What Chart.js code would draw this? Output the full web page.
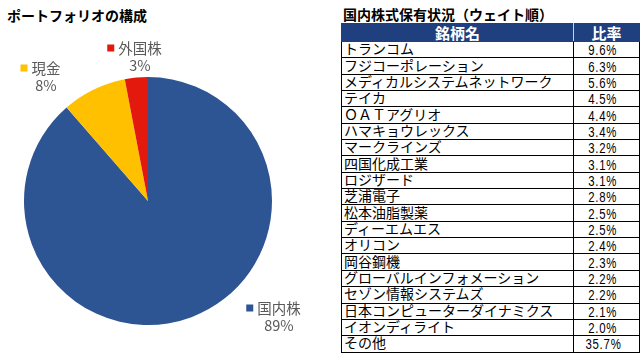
<!DOCTYPE html>
<html><head><meta charset="utf-8">
<script src="https://cdn.jsdelivr.net/npm/chart.js@4"></script>
<style>
html,body{margin:0;padding:0;background:#fff;width:640px;height:360px;overflow:hidden;font-family:"Noto Sans CJK JP",sans-serif;}
.ttl{position:absolute;font-weight:bold;font-size:14px;line-height:16px;color:#000;white-space:nowrap;}
#pieWrap{position:absolute;left:0;top:0;width:330px;height:360px;}
#tbl{position:absolute;left:341px;top:23px;}
table{border-collapse:collapse;table-layout:fixed;width:298px;}
td,th{padding:0;border:1px solid #000;font-size:14px;white-space:nowrap;overflow:hidden;}
th{background:#1f3f7e;color:#fff;font-weight:bold;font-size:15px;height:17px;line-height:17px;text-align:center;border-color:#1f3f7e;}
th.c1{border-right:1px solid #c8cfe0;}
td{height:15.35px;line-height:15px;color:#000;vertical-align:middle;}
td.n{padding-left:2px;}
td.n span{position:relative;top:-1px;}
td.v{text-align:right;padding-right:22px;font-size:15px;font-family:"Liberation Sans","DejaVu Sans",sans-serif;}
td.v span{display:inline-block;transform:scaleX(0.76);transform-origin:right center;letter-spacing:1px;}
</style></head>
<body>
<div class="ttl" style="left:7px;top:7px;">ポートフォリオの構成</div>
<div class="ttl" style="left:343px;top:6px;">国内株式保有状況（ウェイト順）</div>
<div id="pieWrap"><canvas id="pie" width="330" height="360"></canvas></div>
<div id="tbl"></div>
<script>
// ---- Data ----
const assetLabels = ["国内株", "現金", "外国株"];
const assetValues = [88.6, 8.4, 3.0];
const assetColors = ["#2d5493", "#ffc000", "#e3190d"];

const holdingNames = ["トランコム","フジコーポレーション","メディカルシステムネットワーク","テイカ","ＯＡＴアグリオ","ハマキョウレックス","マークラインズ","四国化成工業","ロジザード","芝浦電子","松本油脂製薬","ディーエムエス","オリコン","岡谷鋼機","グローバルインフォメーション","セゾン情報システムズ","日本コンピューターダイナミクス","イオンディライト","その他"];
const holdingWeights = [9.6, 6.3, 5.6, 4.5, 4.4, 3.4, 3.2, 3.1, 3.1, 2.8, 2.5, 2.5, 2.4, 2.3, 2.2, 2.2, 2.1, 2.0, 35.7];
const tableHeaders = ["銘柄名", "比率"];

// ---- Table ----
(function(){
  let h = '<table><colgroup><col style="width:232px"><col style="width:66px"></colgroup>';
  h += '<tr><th class="c1">'+tableHeaders[0]+'</th><th>'+tableHeaders[1]+'</th></tr>';
  holdingNames.forEach((n,i)=>{
    h += '<tr><td class="n"><span>'+n+'</span></td><td class="v"><span>'+holdingWeights[i].toFixed(1)+'%</span></td></tr>';
  });
  h += '</table>';
  document.getElementById('tbl').innerHTML = h;
})();

// ---- Pie outside labels plugin ----
const outLabels = {
  id:'outLabels',
  afterDatasetsDraw(chart, args, opts){
    const ctx = chart.ctx;
    const meta = chart.getDatasetMeta(0);
    const ds = chart.data.datasets[0];
    const total = ds.data.reduce((a,b)=>a+b,0);
    meta.data.forEach((arc,i)=>{
      const off = opts.offsets[i];
      const cx = arc.x + off[0], cy = arc.y + off[1];
      ctx.save();
      ctx.font = '14.5px "Noto Sans CJK JP", sans-serif';
      ctx.fillStyle = '#595959';
      ctx.textAlign = 'center';
      ctx.textBaseline = 'middle';
      const name = chart.data.labels[i];
      const w = ctx.measureText(name).width;
      ctx.fillText(name, cx, cy);
      ctx.fillStyle = ds.backgroundColor[i];
      ctx.fillRect(cx - w/2 - 11, cy - 3.5, 7, 7);
      ctx.fillStyle = '#595959';
      ctx.fillText(Math.round(ds.data[i]/total*100) + '%', cx, cy + 17);
      ctx.restore();
    });
  }
};

new Chart(document.getElementById('pie'), {
  type:'pie',
  data:{labels:assetLabels, datasets:[{data:assetValues, backgroundColor:assetColors, borderWidth:0}]},
  options:{
    responsive:false, animation:false, devicePixelRatio:1,
    layout:{padding:{left:24,right:58,top:77,bottom:35}},
    plugins:{legend:{display:false}, tooltip:{enabled:false},
      outLabels:{offsets:[[131,107],[-102,-133],[-8,-153]]}}
  },
  plugins:[outLabels]
});
</script>
</body></html>
